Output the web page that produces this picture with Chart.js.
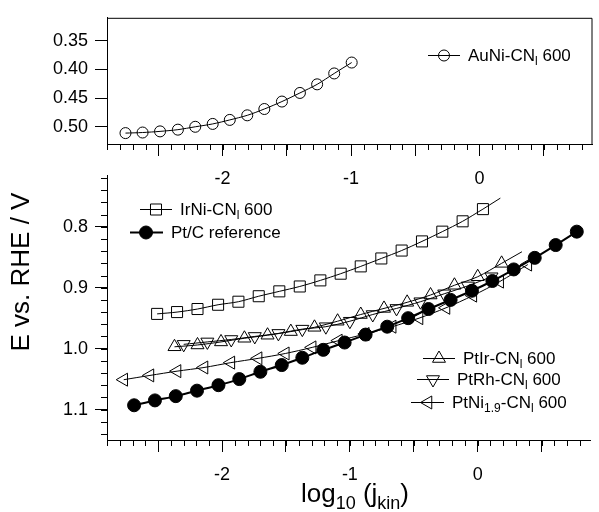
<!DOCTYPE html>
<html lang="en">
<head>
<meta charset="UTF-8">
<title>E vs. RHE / V</title>
<script src="https://cdn.jsdelivr.net/npm/chart.js"></script>
<style>
  html, body { margin: 0; padding: 0; background: #fff; }
  #wrap { position: relative; width: 599px; height: 512px; }
  #wrap canvas { position: absolute; left: 0; top: 0; }
</style>
</head>
<body>
<div id="wrap">
  <canvas id="topChart" width="599" height="512"></canvas>
  <canvas id="mainChart" width="599" height="512"></canvas>
</div>
<script>
  // log10(jkin) / E vs RHE values
  const auniX = [-2.756, -2.623, -2.487, -2.348, -2.213, -2.077, -1.944, -1.808, -1.675, -1.538, -1.398, -1.264, -1.131, -0.995];
  const auniE = [0.511, 0.510, 0.508, 0.505, 0.500, 0.495, 0.488, 0.480, 0.469, 0.456, 0.441, 0.426, 0.407, 0.388];

  const irniX = [-2.508, -2.352, -2.192, -2.031, -1.872, -1.713, -1.552, -1.392, -1.231, -1.072, -0.915, -0.754, -0.595, -0.436, -0.277, -0.118, 0.041];
  const irniE = [0.943, 0.940, 0.935, 0.928, 0.923, 0.914, 0.906, 0.898, 0.888, 0.877, 0.865, 0.852, 0.839, 0.824, 0.808, 0.791, 0.771];

  const ptcX = [-2.688, -2.525, -2.362, -2.196, -2.028, -1.865, -1.700, -1.533, -1.372, -1.208, -1.041, -0.877, -0.708, -0.544, -0.385, -0.212, -0.045, 0.115, 0.282, 0.446, 0.610, 0.775];
  const ptcE = [1.093, 1.085, 1.078, 1.069, 1.060, 1.050, 1.038, 1.027, 1.015, 1.002, 0.990, 0.977, 0.964, 0.950, 0.935, 0.920, 0.905, 0.889, 0.870, 0.851, 0.830, 0.808];

  const ptirX = [-2.372, -2.192, -2.008, -1.825, -1.644, -1.462, -1.277, -1.096, -0.915, -0.733, -0.552, -0.369, -0.182, 0.000, 0.187];
  const ptirE = [0.997, 0.994, 0.989, 0.983, 0.978, 0.972, 0.965, 0.955, 0.944, 0.934, 0.924, 0.912, 0.896, 0.882, 0.860];

  const ptrhX = [-2.300, -2.115, -1.928, -1.744, -1.559, -1.372, -1.188, -1.000, -0.821, -0.635, -0.448, -0.262, -0.077, 0.108];
  const ptrhE = [0.993, 0.989, 0.985, 0.980, 0.975, 0.968, 0.964, 0.955, 0.944, 0.934, 0.923, 0.910, 0.897, 0.882];

  const ptniX = [-2.769, -2.564, -2.352, -2.141, -1.931, -1.718, -1.505, -1.295, -1.090, -0.879, -0.669, -0.459, -0.248, -0.038, 0.172, 0.392];
  const ptniE = [1.051, 1.044, 1.037, 1.031, 1.023, 1.016, 1.008, 0.998, 0.987, 0.976, 0.964, 0.950, 0.933, 0.913, 0.890, 0.862];

  // fit lines run a little past the last marker
  const irniFitX = [0.041, 0.177];
  const irniFitE = [0.771, 0.753];
  const ptirFitX = [0.187, 0.346];
  const ptirFitE = [0.860, 0.841];

  // axes
  const xMajorTicks = [-2.5, -2, -1.5, -1, -0.5, 0, 0.5];
  const xTickLabels = [-2, -1, 0];
  const topYTicks = [0.35, 0.40, 0.45, 0.50];
  const mainYTicks = [0.8, 0.9, 1.0, 1.1];

  const FONT = '"Liberation Sans", Arial, sans-serif';

  function pts(xs, ys) {
    return xs.map((x, i) => ({ x: x, y: ys[i] }));
  }

  function series(xs, ys, style, rot, radius, filled, width) {
    return {
      data: pts(xs, ys),
      showLine: true,
      borderColor: '#000',
      borderWidth: width || 1,
      tension: 0.3,
      pointStyle: style,
      rotation: rot,
      pointRadius: radius,
      pointBorderWidth: 1,
      pointBorderColor: '#000',
      pointBackgroundColor: filled ? '#000' : 'rgba(0,0,0,0)'
    };
  }

  function fitLine(xs, ys) {
    return { data: pts(xs, ys), showLine: true, borderColor: '#000', borderWidth: 1, pointRadius: 0 };
  }

  const isInt = v => Math.abs(v - Math.round(v)) < 1e-6;

  function xAxis(height) {
    return {
      type: 'linear', min: -2.9, max: 0.88,
      afterBuildTicks: s => { s.ticks = xMajorTicks.map(v => ({ value: v })); },
      afterFit: s => { s.height = height; },
      ticks: {
        autoSkip: false, maxRotation: 0, padding: 12, color: '#000',
        font: { family: FONT, size: 18 },
        callback: v => (isInt(v) && xTickLabels.includes(Math.round(v))) ? String(Math.round(v)) : ''
      },
      grid: { drawOnChartArea: false, tickLength: 12, color: '#000', tickColor: '#000' },
      border: { color: '#000', width: 1 }
    };
  }

  function yAxis(min, max, ticks, digits) {
    return {
      type: 'linear', min: min, max: max, reverse: true,
      afterBuildTicks: s => { s.ticks = ticks.map(v => ({ value: v })); },
      afterFit: s => { s.width = 107; },
      ticks: {
        padding: 7, color: '#000',
        font: { family: FONT, size: 18 },
        callback: v => v.toFixed(digits)
      },
      grid: { drawOnChartArea: false, tickLength: 12, color: '#000', tickColor: '#000' },
      border: { color: '#000', width: 1 }
    };
  }

  // minor ticks drawn from the chart's own scales
  const minorTicks = {
    id: 'minorTicks',
    afterDraw(chart, args, opts) {
      const ctx = chart.ctx;
      ctx.save();
      ctx.strokeStyle = '#000';
      ctx.lineWidth = 1;
      ['x', 'y'].forEach(id => {
        const step = opts[id];
        if (!step) return;
        const sc = chart.scales[id];
        const lo = Math.min(sc.min, sc.max), hi = Math.max(sc.min, sc.max);
        for (let k = Math.ceil(lo / step - 1e-6); k * step <= hi + 1e-9; k++) {
          const v = k * step;
          ctx.beginPath();
          if (id === 'x') {
            const p = Math.round(sc.getPixelForValue(v)) + 0.5;
            const y0 = chart.chartArea.bottom;
            ctx.moveTo(p, y0);
            ctx.lineTo(p, y0 + 6);
          } else {
            const p = Math.round(sc.getPixelForValue(v)) + 0.5;
            const x0 = chart.chartArea.left;
            ctx.moveTo(x0, p);
            ctx.lineTo(x0 - 6, p);
          }
          ctx.stroke();
        }
      });
      ctx.restore();
    }
  };

  // top and right border of the upper panel
  const frame = {
    id: 'frame',
    afterDraw(chart, args, opts) {
      if (!opts.on) return;
      const a = chart.chartArea, ctx = chart.ctx;
      ctx.save();
      ctx.strokeStyle = '#000';
      ctx.lineWidth = 1;
      ctx.beginPath();
      ctx.moveTo(a.left, a.top + 0.5);
      ctx.lineTo(a.right - 0.5, a.top + 0.5);
      ctx.lineTo(a.right - 0.5, a.bottom);
      ctx.stroke();
      ctx.restore();
    }
  };

  function marker(ctx, style, x, y, r, filled) {
    ctx.beginPath();
    if (style === 'circle') {
      ctx.arc(x, y, r, 0, Math.PI * 2);
    } else if (style === 'rect') {
      const s = r * Math.SQRT1_2;
      ctx.rect(x - s, y - s, 2 * s, 2 * s);
    } else {
      let a = style * Math.PI / 180;
      ctx.moveTo(x + Math.sin(a) * r, y - Math.cos(a) * r);
      for (let i = 0; i < 2; i++) {
        a += 2 * Math.PI / 3;
        ctx.lineTo(x + Math.sin(a) * r, y - Math.cos(a) * r);
      }
      ctx.closePath();
    }
    if (filled) { ctx.fillStyle = '#000'; ctx.fill(); }
    ctx.stroke();
  }

  function rich(ctx, parts, x, y, size, align) {
    const sub = Math.round(size * 0.68);
    let w = 0;
    parts.forEach(p => {
      ctx.font = (p[1] ? sub : size) + 'px ' + FONT;
      w += ctx.measureText(p[0]).width;
    });
    let cx = align === 'center' ? x - w / 2 : x;
    ctx.textAlign = 'left';
    ctx.textBaseline = 'alphabetic';
    parts.forEach(p => {
      ctx.font = (p[1] ? sub : size) + 'px ' + FONT;
      ctx.fillText(p[0], cx, p[1] ? y + size * 0.26 : y);
      cx += ctx.measureText(p[0]).width;
    });
  }

  const legendItems = [
    { x0: 428, x1: 460, mx: 444, y: 55, tx: 468, style: 'circle', r: 5.5, lw: 1, parts: [['AuNi-CN'], ['l', 1], [' 600']] },
    { x0: 140, x1: 172, mx: 156, y: 209, tx: 180, style: 'rect', r: 7.8, lw: 1, parts: [['IrNi-CN'], ['l', 1], [' 600']] },
    { x0: 130, x1: 163, mx: 146, y: 232, tx: 171, style: 'circle', r: 6.5, lw: 2, filled: true, parts: [['Pt/C reference']] },
    { x0: 423, x1: 455, mx: 439, y: 358, tx: 463, style: 0, r: 7.5, lw: 1, parts: [['PtIr-CN'], ['l', 1], [' 600']] },
    { x0: 417, x1: 449, mx: 433, y: 379, tx: 457, style: 180, r: 7.5, lw: 1, parts: [['PtRh-CN'], ['l', 1], [' 600']] },
    { x0: 411, x1: 444, mx: 428, y: 402, tx: 452, style: 270, r: 7.5, lw: 1, parts: [['PtNi'], ['1.9', 1], ['-CN'], ['l', 1], [' 600']] }
  ];

  const labels = {
    id: 'labels',
    afterDraw(chart) {
      const ctx = chart.ctx;
      ctx.save();
      ctx.fillStyle = '#000';
      ctx.strokeStyle = '#000';
      legendItems.forEach(it => {
        ctx.lineWidth = it.lw;
        ctx.beginPath();
        ctx.moveTo(it.x0, it.y + 0.5);
        ctx.lineTo(it.x1, it.y + 0.5);
        ctx.stroke();
        ctx.lineWidth = 1;
        marker(ctx, it.style, it.mx, it.y + 0.5, it.r, it.filled);
        ctx.fillStyle = '#000';
        rich(ctx, it.parts, it.tx, it.y + 6, 17, 'left');
      });
      // axis titles
      ctx.save();
      ctx.translate(29, 272);
      ctx.rotate(-Math.PI / 2);
      ctx.font = '26px ' + FONT;
      ctx.textAlign = 'center';
      ctx.textBaseline = 'alphabetic';
      ctx.fillText('E vs. RHE / V', 0, 0);
      ctx.restore();
      rich(ctx, [['log'], ['10', 1], [' (j'], ['kin', 1], [')']], 355, 502, 26, 'center');
      ctx.restore();
    }
  };

  new Chart(document.getElementById('topChart'), {
    type: 'scatter',
    data: { datasets: [series(auniX, auniE, 'circle', 0, 5.5, false, 1)] },
    options: {
      responsive: false, animation: false, events: [],
      layout: { padding: { top: 10, right: 0, left: 0, bottom: 0 } },
      plugins: { legend: { display: false }, tooltip: { enabled: false }, minorTicks: { x: 0.1 }, frame: { on: true } },
      scales: { x: xAxis(368), y: yAxis(0.31, 0.53, topYTicks, 2) }
    },
    plugins: [minorTicks, frame]
  });

  new Chart(document.getElementById('mainChart'), {
    type: 'scatter',
    data: {
      datasets: [
        series(irniX, irniE, 'rect', 0, 7.8, false, 1),
        fitLine(irniFitX, irniFitE),
        series(ptirX, ptirE, 'triangle', 0, 7.5, false, 1),
        fitLine(ptirFitX, ptirFitE),
        series(ptrhX, ptrhE, 'triangle', 180, 7.5, false, 1),
        series(ptniX, ptniE, 'triangle', 270, 7.5, false, 1),
        series(ptcX, ptcE, 'circle', 0, 6.5, true, 2)
      ]
    },
    options: {
      responsive: false, animation: false, events: [],
      layout: { padding: { top: 175, right: 0, left: 0, bottom: 0 } },
      plugins: { legend: { display: false }, tooltip: { enabled: false }, minorTicks: { x: 0.1, y: 0.02 }, frame: { on: false } },
      scales: { x: xAxis(72), y: yAxis(0.715, 1.15, mainYTicks, 1) }
    },
    plugins: [minorTicks, frame, labels]
  });
</script>
</body>
</html>
